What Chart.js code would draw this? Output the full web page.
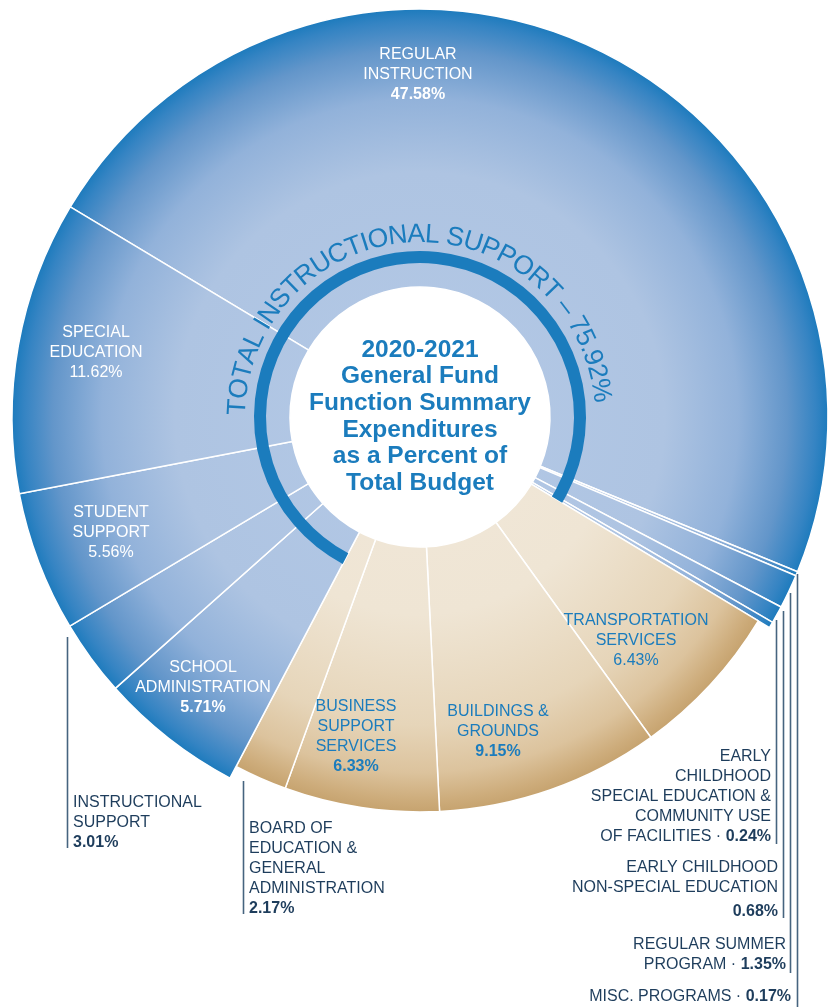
<!DOCTYPE html>
<html>
<head>
<meta charset="utf-8">
<script src="https://cdn.jsdelivr.net/npm/chart.js@4.4.1/dist/chart.umd.min.js"></script>
<style>
  html, body { margin: 0; padding: 0; background: #fff; }
  canvas { display: block; }
</style>
</head>
<body>
<canvas id="budgetChart" width="833" height="1007"></canvas>
<script>
// slices, clockwise from the top-left edge of Regular Instruction
const categories = [
  "REGULAR\nINSTRUCTION",
  "MISC. PROGRAMS",
  "REGULAR SUMMER\nPROGRAM",
  "EARLY CHILDHOOD\nNON-SPECIAL EDUCATION",
  "EARLY\nCHILDHOOD\nSPECIAL EDUCATION &\nCOMMUNITY USE\nOF FACILITIES",
  "TRANSPORTATION\nSERVICES",
  "BUILDINGS &\nGROUNDS",
  "BUSINESS\nSUPPORT\nSERVICES",
  "BOARD OF\nEDUCATION &\nGENERAL\nADMINISTRATION",
  "SCHOOL\nADMINISTRATION",
  "INSTRUCTIONAL\nSUPPORT",
  "STUDENT\nSUPPORT",
  "SPECIAL\nEDUCATION"
];
const percents = [47.58, 0.17, 1.35, 0.68, 0.24, 6.43, 9.15, 6.33, 2.17, 5.71, 3.01, 5.56, 11.62];
const groups = ["instr", "instr", "instr", "instr", "instr", "supp", "supp", "supp", "supp", "instr", "instr", "instr", "instr"];

const titleLines = ["2020-2021", "General Fund", "Function Summary", "Expenditures", "as a Percent of", "Total Budget"];
const ringTitle = "TOTAL INSTRUCTIONAL SUPPORT";

const instrTotal = percents.reduce((s, v, i) => groups[i] === "instr" ? s + v : s, 0);

// where each label sits (layout only)
const labelPos = [
  { x: 418, y: 55, align: "center", color: "#fff", pct: "below", bold: true },
  { x: 791, y: 997, align: "right", color: "#1e3d5c", pct: "inline", bold: true, line: [797.5, 574, 1007] },
  { x: 786, y: 945, align: "right", color: "#1e3d5c", pct: "inline", bold: true, line: [790.5, 593, 973] },
  { x: 778, y: 868, align: "right", color: "#1e3d5c", pct: "below", bold: true, gap: 24, line: [783.5, 611, 918] },
  { x: 771, y: 757, align: "right", color: "#1e3d5c", pct: "inline", bold: true, line: [776.5, 620, 844] },
  { x: 636, y: 621, align: "center", color: "#1b7cbd", pct: "below", bold: false },
  { x: 498, y: 712, align: "center", color: "#1b7cbd", pct: "below", bold: true },
  { x: 356, y: 707, align: "center", color: "#1b7cbd", pct: "below", bold: true },
  { x: 249, y: 829, align: "left", color: "#1e3d5c", pct: "below", bold: true, line: [243.5, 781, 914] },
  { x: 203, y: 668, align: "center", color: "#fff", pct: "below", bold: true },
  { x: 73, y: 803, align: "left", color: "#1e3d5c", pct: "below", bold: true, line: [67.5, 637, 848] },
  { x: 111, y: 513, align: "center", color: "#fff", pct: "below", bold: false },
  { x: 96, y: 333, align: "center", color: "#fff", pct: "below", bold: false }
];

const outerR = 408;   // instructional slices
const suppR = 395;    // support slices sit a little lower
const innerR = 130;
const blue = "#1b7cbd";
const FONT = '"Liberation Sans", Arial, sans-serif';

let gradCache = {};
function sliceFill(ctx) {
  const chart = ctx.chart;
  const area = chart.chartArea;
  const g = groups[ctx.dataIndex];
  if (!area) return g === "instr" ? "#9fbbe0" : "#e8d9c0";
  if (gradCache[g]) return gradCache[g];
  const cx = (area.left + area.right) / 2;
  const cy = (area.top + area.bottom) / 2;
  const c = chart.ctx;
  let grad;
  if (g === "instr") {
    grad = c.createRadialGradient(cx, cy, 0, cx, cy, outerR);
    grad.addColorStop(0, "#b4c9e6");
    grad.addColorStop(0.6, "#aec4e2");
    grad.addColorStop(0.78, "#92b2da");
    grad.addColorStop(0.9, "#6396ca");
    grad.addColorStop(0.97, "#3584c3");
    grad.addColorStop(1, "#1d7bbd");
  } else {
    grad = c.createRadialGradient(cx, cy, 0, cx, cy, suppR);
    grad.addColorStop(0, "#f1e8da");
    grad.addColorStop(0.5, "#efe5d4");
    grad.addColorStop(0.78, "#e6d5b9");
    grad.addColorStop(0.9, "#dcc39d");
    grad.addColorStop(0.97, "#cdac7b");
    grad.addColorStop(1, "#c6a36f");
  }
  gradCache[g] = grad;
  return grad;
}

const decoPlugin = {
  id: "deco",
  beforeDatasetsDraw(chart) {
    const meta = chart.getDatasetMeta(0);
    meta.data.forEach((arc, i) => {
      if (groups[i] === "supp") arc.outerRadius = suppR;
    });
  },
  afterDatasetsDraw(chart) {
    const ctx = chart.ctx;
    const arcs = chart.getDatasetMeta(0).data;
    const cx = arcs[0].x, cy = arcs[0].y;
    // thick ring over the instructional slices
    const firstInstr = 9, lastInstr = 4;
    const a0 = arcs[firstInstr].startAngle;
    let a1 = arcs[lastInstr].endAngle;
    if (a1 < a0) a1 += Math.PI * 2;
    ctx.save();
    ctx.beginPath();
    ctx.arc(cx, cy, 160, a0, a1);
    ctx.lineWidth = 12;
    ctx.strokeStyle = blue;
    ctx.lineCap = "butt";
    ctx.stroke();

    // curved title
    const text = ringTitle + " \u2013 " + instrTotal.toFixed(2) + "%";
    ctx.font = "26.5px " + FONT;
    ctx.fillStyle = blue;
    ctx.textAlign = "center";
    ctx.textBaseline = "alphabetic";
    const chars = [...text];
    const widths = chars.map(ch => ctx.measureText(ch).width);
    const total = widths.reduce((s, w) => s + w, 0);
    const r = 175;
    const span = 175 * Math.PI / 180;
    const mid = -92 * Math.PI / 180;
    const gap = (span * r - total) / (chars.length - 1);
    let a = mid - span / 2;
    chars.forEach((ch, i) => {
      const w = widths[i];
      const m = a + (w / 2) / r;
      ctx.save();
      ctx.translate(cx + r * Math.cos(m), cy + r * Math.sin(m));
      ctx.rotate(m + Math.PI / 2);
      ctx.fillText(ch, 0, 0);
      ctx.restore();
      a += (w + gap) / r;
    });

    // centre title
    ctx.font = "bold 24.5px " + FONT;
    ctx.textBaseline = "middle";
    titleLines.forEach((t, i) => ctx.fillText(t, cx, 350 + i * 26.6));
    ctx.restore();
  },
  afterDraw(chart) {
    const ctx = chart.ctx;
    ctx.save();
    ctx.textBaseline = "middle";
    const reg = "16px " + FONT;
    const bld = "bold 16px " + FONT;
    categories.forEach((cat, i) => {
      const p = labelPos[i];
      const lines = cat.split("\n");
      const pctText = percents[i].toFixed(2) + "%";
      ctx.fillStyle = p.color;
      ctx.textAlign = p.align;
      lines.forEach((ln, k) => {
        const y = p.y + k * 20;
        if (p.pct === "inline" && k === lines.length - 1) {
          ctx.font = bld;
          const pw = ctx.measureText(pctText).width;
          ctx.textAlign = "right";
          ctx.fillText(pctText, p.x, y);
          ctx.font = reg;
          ctx.fillText(ln + " \u00b7 ", p.x - pw, y);
          ctx.textAlign = p.align;
        } else {
          ctx.font = reg;
          ctx.fillText(ln, p.x, y);
        }
      });
      if (p.pct === "below") {
        ctx.font = p.bold ? bld : reg;
        ctx.fillText(pctText, p.x, p.y + (lines.length - 1) * 20 + (p.gap || 20));
      }
      if (p.line) {
        ctx.beginPath();
        ctx.moveTo(p.line[0], p.line[1]);
        ctx.lineTo(p.line[0], p.line[2]);
        ctx.lineWidth = 1.6;
        ctx.strokeStyle = "#46647f";
        ctx.stroke();
      }
    });
    ctx.restore();
  }
};

new Chart(document.getElementById("budgetChart"), {
  type: "doughnut",
  data: {
    labels: categories.map(c => c.replace(/\n/g, " ")),
    datasets: [{
      data: percents,
      backgroundColor: sliceFill,
      borderColor: "#ffffff",
      borderWidth: 1.5,
      hoverBorderWidth: 1.5,
      hoverOffset: 0,
      offset: 0
    }]
  },
  options: {
    responsive: false,
    animation: false,
    events: [],
    rotation: -59,
    radius: outerR,
    cutout: (innerR / outerR * 100) + "%",
    layout: { padding: { left: 7, right: 0, top: 0, bottom: 173 } },
    plugins: { legend: { display: false }, tooltip: { enabled: false } }
  },
  plugins: [decoPlugin]
});
</script>
</body>
</html>
